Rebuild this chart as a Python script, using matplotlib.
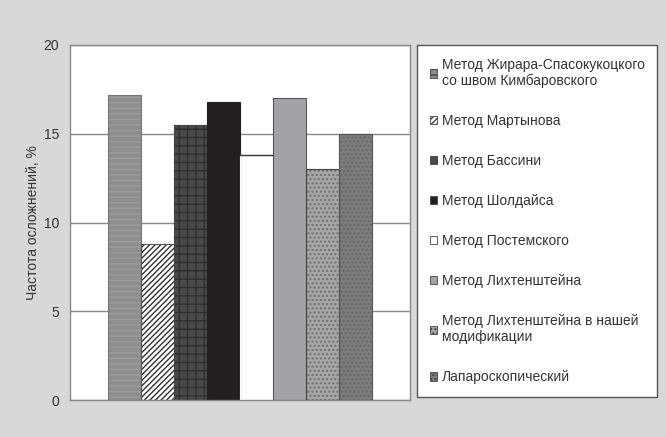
import matplotlib
matplotlib.use("Agg")
import numpy as np
from matplotlib import pyplot as plt
from matplotlib.patches import Patch

plt.rcParams['font.family'] = ['Liberation Sans', 'DejaVu Sans']

methods = [
    "Метод Жирара-Спасокукоцкого\nсо швом Кимбаровского",
    "Метод Мартынова",
    "Метод Бассини",
    "Метод Шолдайса",
    "Метод Постемского",
    "Метод Лихтенштейна",
    "Метод Лихтенштейна в нашей\nмодификации",
    "Лапароскопический",
]
rates = [17.2, 8.8, 15.5, 16.8, 13.8, 17.0, 13.0, 15.0]
yticks = [0, 5, 10, 15, 20]
ylabel = "Частота осложнений, %"

fills = ["#8e8e8e", "#ffffff", "#4a4a4a", "#231f20",
         "#ffffff", "#a1a3a6", "#a6a6a6", "#7c7c7c"]
hatches = ["---", "//////", "++", None, None, None, "....", "...."]
hatch_cols = ["#9c9c9c", "#333333", "#303030", "#231f20",
              "#ffffff", "#a1a3a6", "#707070", "#666666"]
edges = ["#777777", "#555555", "#444444", "#231f20",
         "#ffffff", "#555555", "#444444", "#555555"]

fig = plt.figure(figsize=(6.66, 4.37), dpi=100)
fig.patch.set_facecolor("#d8d8d8")
ax = fig.add_axes([70 / 666, 1 - 400 / 437, 340 / 666, 355 / 437])
ax.set_facecolor("white")

w = 33 / 340
x0 = 0.5 - 4 * w
for i, v in enumerate(rates):
    plt.rcParams['hatch.color'] = hatch_cols[i]
    ax.bar(x0 + (i + 0.5) * w, v, width=w, color=fills[i],
           hatch=hatches[i], edgecolor=hatch_cols[i], linewidth=0,
           zorder=2)
    # outline drawn separately
    ax.bar(x0 + (i + 0.5) * w, v, width=w, fill=False,
           edgecolor=edges[i], linewidth=0.8, zorder=3)

# white bar: only the top line is visible
ax.plot([x0 + 4 * w, x0 + 5 * w], [rates[4], rates[4]], color="#333333",
        lw=1.0, zorder=4)

ax.set_xlim(0, 1)
ax.set_ylim(0, 20)
ax.set_yticks(yticks)
ax.set_xticks([])
ax.tick_params(axis="y", length=0, pad=8, labelsize=10, colors="#333333")
ax.yaxis.grid(True, color="#888888", lw=1.0, zorder=0)
ax.set_axisbelow(True)
for s in ax.spines.values():
    s.set_color("#888888")
    s.set_linewidth(1.0)
ax.set_ylabel(ylabel, fontsize=10, color="#333333", labelpad=2)

handles = []
for i in range(len(methods)):
    plt.rcParams['hatch.color'] = hatch_cols[i]
    handles.append(Patch(facecolor=fills[i], hatch=hatches[i],
                         edgecolor="#444444", linewidth=0.6))
leg = fig.legend(handles, methods, loc="upper left",
                 bbox_to_anchor=(417 / 666, 1 - 45 / 437),
                 fontsize=10, frameon=True, fancybox=False, framealpha=1,
                 labelspacing=1.87, handlelength=0.55, handleheight=0.55,
                 handletextpad=0.35, borderpad=0.9, borderaxespad=0)
leg.get_frame().set_edgecolor("#555555")
leg.get_frame().set_linewidth(1.0)
leg.get_frame().set_facecolor("white")
for t in leg.get_texts():
    t.set_color("#333333")

fig.savefig("out.png", dpi=100, facecolor=fig.get_facecolor())
